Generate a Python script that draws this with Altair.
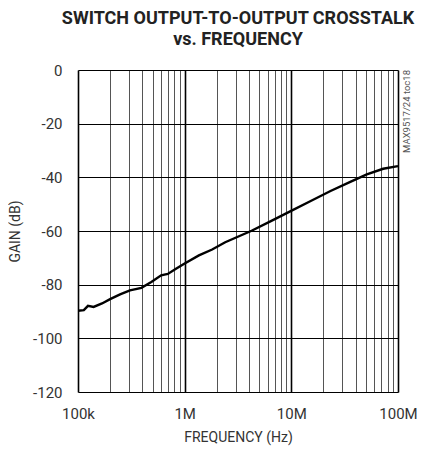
import altair as alt
import pandas as pd

freq_hz = [1.0e5, 1.135e5, 1.24e5, 1.4e5, 1.68e5, 2.0e5, 2.48e5, 3.07e5, 3.93e5, 4.87e5,
           6.02e5, 6.95e5, 8.29e5, 9.91e5, 1.36e6, 1.81e6, 2.4e6, 4.24e6, 6.5e6, 9.96e6,
           1.52e7, 2.33e7, 3.57e7, 5.1e7, 7.26e7, 1.0e8]
gain_db = [-89.7, -89.5, -87.9, -88.3, -87.0, -85.4, -83.6, -82.1, -81.2, -79.0,
           -76.5, -76.0, -74.1, -72.2, -69.1, -66.9, -64.2, -59.9, -56.2, -52.5,
           -48.8, -45.1, -41.7, -38.9, -36.8, -35.8]

x_grid = [m * 10 ** e for e in (5, 6, 7) for m in range(1, 10)] + [1e8]
y_ticks = [0, -20, -40, -60, -80, -100, -120]

df = pd.DataFrame({"f": freq_hz, "g": gain_db})

FONT = "Roboto"

decade_test = "abs(log(datum.value)/log(10) - round(log(datum.value)/log(10))) < 0.001"

line = alt.Chart(df).mark_line(color="black", strokeWidth=2.4, clip=True).encode(
    x=alt.X("f:Q",
            scale=alt.Scale(type="log", domain=[1e5, 1e8], nice=False),
            axis=alt.Axis(values=x_grid, title="FREQUENCY (Hz)",
                          labelExpr="datum.value==1e5 ? '100k' : datum.value==1e6 ? '1M' : datum.value==1e7 ? '10M' : datum.value==1e8 ? '100M' : ''",
                          grid=True, ticks=False, domain=False,
                          gridColor={"condition": {"test": decade_test, "value": "#000000"}, "value": "#555555"},
                          gridWidth={"condition": {"test": decade_test, "value": 1.6}, "value": 1.0},
                          labelFont=FONT, labelFontSize=15, labelColor="#333333",
                          labelPadding=14, labelOverlap=False, labelFlush=False,
                          titleFont=FONT, titleFontSize=14, titleFontWeight="normal",
                          titleColor="#333333", titlePadding=9)),
    y=alt.Y("g:Q",
            scale=alt.Scale(domain=[-120, 0], nice=False),
            axis=alt.Axis(values=y_ticks, title="GAIN (dB)", grid=True, ticks=False, domain=False,
                          gridColor="#000000", gridWidth=1.0,
                          labelExpr="'' + datum.value",
                          labelFont=FONT, labelFontSize=15, labelColor="#333333",
                          labelPadding=16, labelFlush=False,
                          titleFont=FONT, titleFontSize=14, titleFontWeight="normal",
                          titleColor="#333333", titlePadding=10)),
)

note = alt.Chart(pd.DataFrame({"t": ["MAX9517/24 toc18"]})).mark_text(
    angle=270, align="right", baseline="middle", font=FONT, fontSize=9.5, color="#555555"
).encode(x=alt.value(329), y=alt.value(0), text="t:N")

chart = alt.layer(line, note).properties(
    width=320, height=322,
    title=alt.Title(["SWITCH OUTPUT-TO-OUTPUT CROSSTALK", "vs. FREQUENCY"],
                    font=FONT, fontSize=18, fontWeight="bold", color="#222222",
                    anchor="middle", offset=14, lineHeight=21),
    autosize=alt.AutoSizeParams(type="none"),
    padding={"left": 70, "top": 62, "right": 19, "bottom": 55},
).configure_view(stroke="black", strokeWidth=2.2).configure(background="white")

chart.save("out.html", embed_options={"renderer": "svg", "actions": False})
